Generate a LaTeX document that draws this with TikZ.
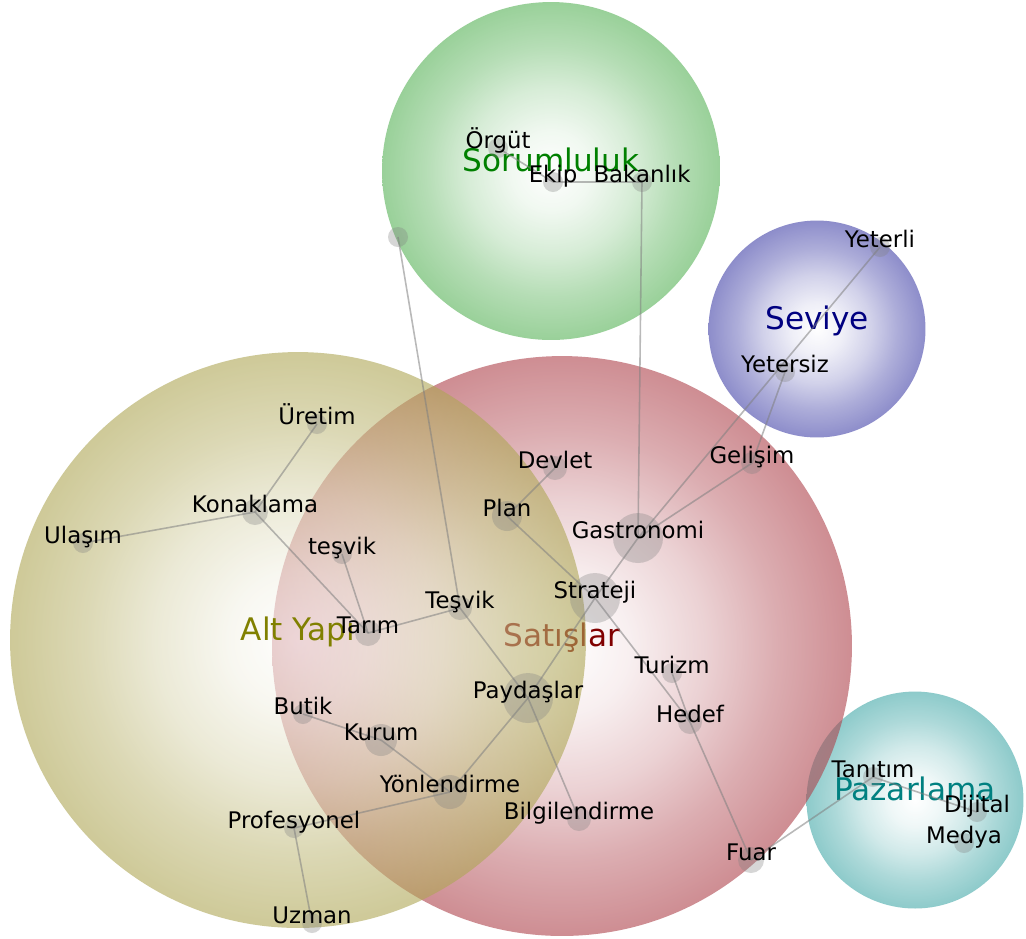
\documentclass[tikz,border=0pt]{standalone}
\usepackage{fontspec}
\setmainfont{DejaVu Sans}

% full tones of the theme bubbles (painted at 60% opacity)
\definecolor{ballgreen}{RGB}{86,178,86}
\definecolor{ballblue}{RGB}{66,66,168}
\definecolor{ballolive}{RGB}{174,166,84}
\definecolor{ballred}{RGB}{174,66,75}
\definecolor{ballteal}{RGB}{66,168,168}
\definecolor{themegreen}{RGB}{0,128,0}
\definecolor{themenavy}{RGB}{0,0,128}
\definecolor{themeolive}{RGB}{128,128,0}
\definecolor{themered}{RGB}{128,0,0}
\definecolor{themeteal}{RGB}{0,128,128}

% radial fade: white core, deepening towards the rim (the rim sits at 25bp)
\newcommand\makeball[2]{%
  \colorlet{#1a}{#2!14!white}%
  \colorlet{#1b}{#2!40!white}%
  \colorlet{#1c}{#2!72!white}%
  \pgfdeclareradialshading{#1}{\pgfpoint{0bp}{0bp}}{color(0bp)=(white); color(6bp)=(#1a); color(12.5bp)=(#1b); color(18.5bp)=(#1c); color(25bp)=(#2); color(50bp)=(#2)}}
\makeball{greenball}{ballgreen}
\makeball{blueball}{ballblue}
\makeball{oliveball}{ballolive}
\makeball{redball}{ballred}
\makeball{tealball}{ballteal}

\begin{document}
\begin{tikzpicture}[x=0.02cm, y=-0.02cm,
  bubble/.style={shading=#1, opacity=0.6, draw=none},
  theme/.style={anchor=base, inner sep=0pt, font=\fontsize{17.7}{20}\selectfont},
  dot/.style={circle, fill=gray, fill opacity=0.32, draw=none, inner sep=0pt, minimum size=#1*0.04cm},
  lbl/.style={anchor=base, inner sep=0pt, text=black, font=\fontsize{13}{15}\selectfont},
  link/.style={draw=black!50, line width=0.9pt, opacity=0.55}]

\fill[white] (0,0) rectangle (1026,938);
\useasboundingbox (0,0) rectangle (1026,938);

% theme bubbles with their titles
\path[bubble=greenball] (551,171) circle[radius=3.38cm];
\node[theme, text=themegreen] (sorumluluk) at (551,171) {Sorumluluk};
\path[bubble=blueball] (817,329) circle[radius=2.17cm];
\node[theme, text=themenavy] (seviye) at (817,329) {Seviye};
\path[bubble=tealball] (915,800) circle[radius=2.17cm];
\path[bubble=redball] (562,646) circle[radius=5.8cm];
\node[theme, text=themered] (satislar) at (562,646) {Satışlar};
\path[bubble=oliveball] (298,640) circle[radius=5.76cm];
\node[theme, text=themeolive] (altyapi) at (298,640) {Alt Yapı};
\node[theme, text=themeteal] (pazarlama) at (915,800) {Pazarlama};

% concept dots
\node[dot=10] (orgut) at (498,148) {};
\node[dot=10] (ekip) at (553,182) {};
\node[dot=10] (bakanlik) at (642,182) {};
\node[dot=10] (free) at (398,237) {};
\node[dot=10] (yeterli) at (880,247) {};
\node[dot=10] (yetersiz) at (785,372) {};
\node[dot=11] (gelisim) at (752,463) {};
\node[dot=12] (devlet) at (555,468) {};
\node[dot=15] (plan) at (507,516) {};
\node[dot=25] (gastronomi) at (638,538) {};
\node[dot=25] (strateji) at (595,598) {};
\node[dot=10] (turizm) at (672,673) {};
\node[dot=12] (hedef) at (690,722) {};
\node[dot=13] (fuar) at (751,860) {};
\node[dot=10] (tanitim) at (873,777) {};
\node[dot=10] (dijital) at (977,812) {};
\node[dot=10] (medya) at (964,843) {};
\node[dot=25] (paydaslar) at (528,698) {};
\node[dot=12] (bilgilendirme) at (579,819) {};
\node[dot=17] (yonlendirme) at (450,792) {};
\node[dot=16] (kurum) at (381,740) {};
\node[dot=10] (butik) at (303,714) {};
\node[dot=10] (profesyonel) at (294,828) {};
\node[dot=10] (uzman) at (312,923) {};
\node[dot=12] (tesvikB) at (460,608) {};
\node[dot=13] (tarim) at (368,633) {};
\node[dot=10] (tesvik) at (342,554) {};
\node[dot=13] (konaklama) at (255,512) {};
\node[dot=10] (uretim) at (317,424) {};
\node[dot=10] (ulasim) at (83,543) {};

% connectors
\draw[link] (orgut.center) -- (ekip.center);
\draw[link] (ekip.center) -- (bakanlik.center);
\draw[link] (bakanlik.center) -- (gastronomi.center);
\draw[link] (free.center) -- (tesvikB.center);
\draw[link] (yeterli.center) -- (gastronomi.center);
\draw[link] (yetersiz.center) -- (gelisim.center);
\draw[link] (gelisim.center) -- (gastronomi.center);
\draw[link] (devlet.center) -- (plan.center);
\draw[link] (plan.center) -- (strateji.center);
\draw[link] (strateji.center) -- (gastronomi.center);
\draw[link] (strateji.center) -- (hedef.center);
\draw[link] (turizm.center) -- (hedef.center);
\draw[link] (hedef.center) -- (fuar.center);
\draw[link] (fuar.center) -- (tanitim.center);
\draw[link] (tanitim.center) -- (dijital.center);
\draw[link] (strateji.center) -- (paydaslar.center);
\draw[link] (tesvikB.center) -- (paydaslar.center);
\draw[link] (paydaslar.center) -- (yonlendirme.center);
\draw[link] (paydaslar.center) -- (bilgilendirme.center);
\draw[link] (yonlendirme.center) -- (kurum.center);
\draw[link] (kurum.center) -- (butik.center);
\draw[link] (yonlendirme.center) -- (profesyonel.center);
\draw[link] (profesyonel.center) -- (uzman.center);
\draw[link] (tesvikB.center) -- (tarim.center);
\draw[link] (tarim.center) -- (konaklama.center);
\draw[link] (tarim.center) -- (tesvik.center);
\draw[link] (konaklama.center) -- (uretim.center);
\draw[link] (konaklama.center) -- (ulasim.center);

% concept labels, sitting on their dots
\node[lbl] (orgut-t) at (orgut.center) {Örgüt};
\node[lbl] (ekip-t) at (ekip.center) {Ekip};
\node[lbl] (bakanlik-t) at (bakanlik.center) {Bakanlık};
\node[lbl] (yeterli-t) at (yeterli.center) {Yeterli};
\node[lbl] (yetersiz-t) at (yetersiz.center) {Yetersiz};
\node[lbl] (gelisim-t) at (gelisim.center) {Gelişim};
\node[lbl] (devlet-t) at (devlet.center) {Devlet};
\node[lbl] (plan-t) at (plan.center) {Plan};
\node[lbl] (gastronomi-t) at (gastronomi.center) {Gastronomi};
\node[lbl] (strateji-t) at (strateji.center) {Strateji};
\node[lbl] (turizm-t) at (turizm.center) {Turizm};
\node[lbl] (hedef-t) at (hedef.center) {Hedef};
\node[lbl] (fuar-t) at (fuar.center) {Fuar};
\node[lbl] (tanitim-t) at (tanitim.center) {Tanıtım};
\node[lbl] (dijital-t) at (dijital.center) {Dijital};
\node[lbl] (medya-t) at (medya.center) {Medya};
\node[lbl] (paydaslar-t) at (paydaslar.center) {Paydaşlar};
\node[lbl] (bilgilendirme-t) at (bilgilendirme.center) {Bilgilendirme};
\node[lbl] (yonlendirme-t) at (yonlendirme.center) {Yönlendirme};
\node[lbl] (kurum-t) at (kurum.center) {Kurum};
\node[lbl] (butik-t) at (butik.center) {Butik};
\node[lbl] (profesyonel-t) at (profesyonel.center) {Profesyonel};
\node[lbl] (uzman-t) at (uzman.center) {Uzman};
\node[lbl] (tesvikB-t) at (tesvikB.center) {Teşvik};
\node[lbl] (tarim-t) at (tarim.center) {Tarım};
\node[lbl] (tesvik-t) at (tesvik.center) {teşvik};
\node[lbl] (konaklama-t) at (konaklama.center) {Konaklama};
\node[lbl] (uretim-t) at (uretim.center) {Üretim};
\node[lbl] (ulasim-t) at (ulasim.center) {Ulaşım};

\end{tikzpicture}
\end{document}
